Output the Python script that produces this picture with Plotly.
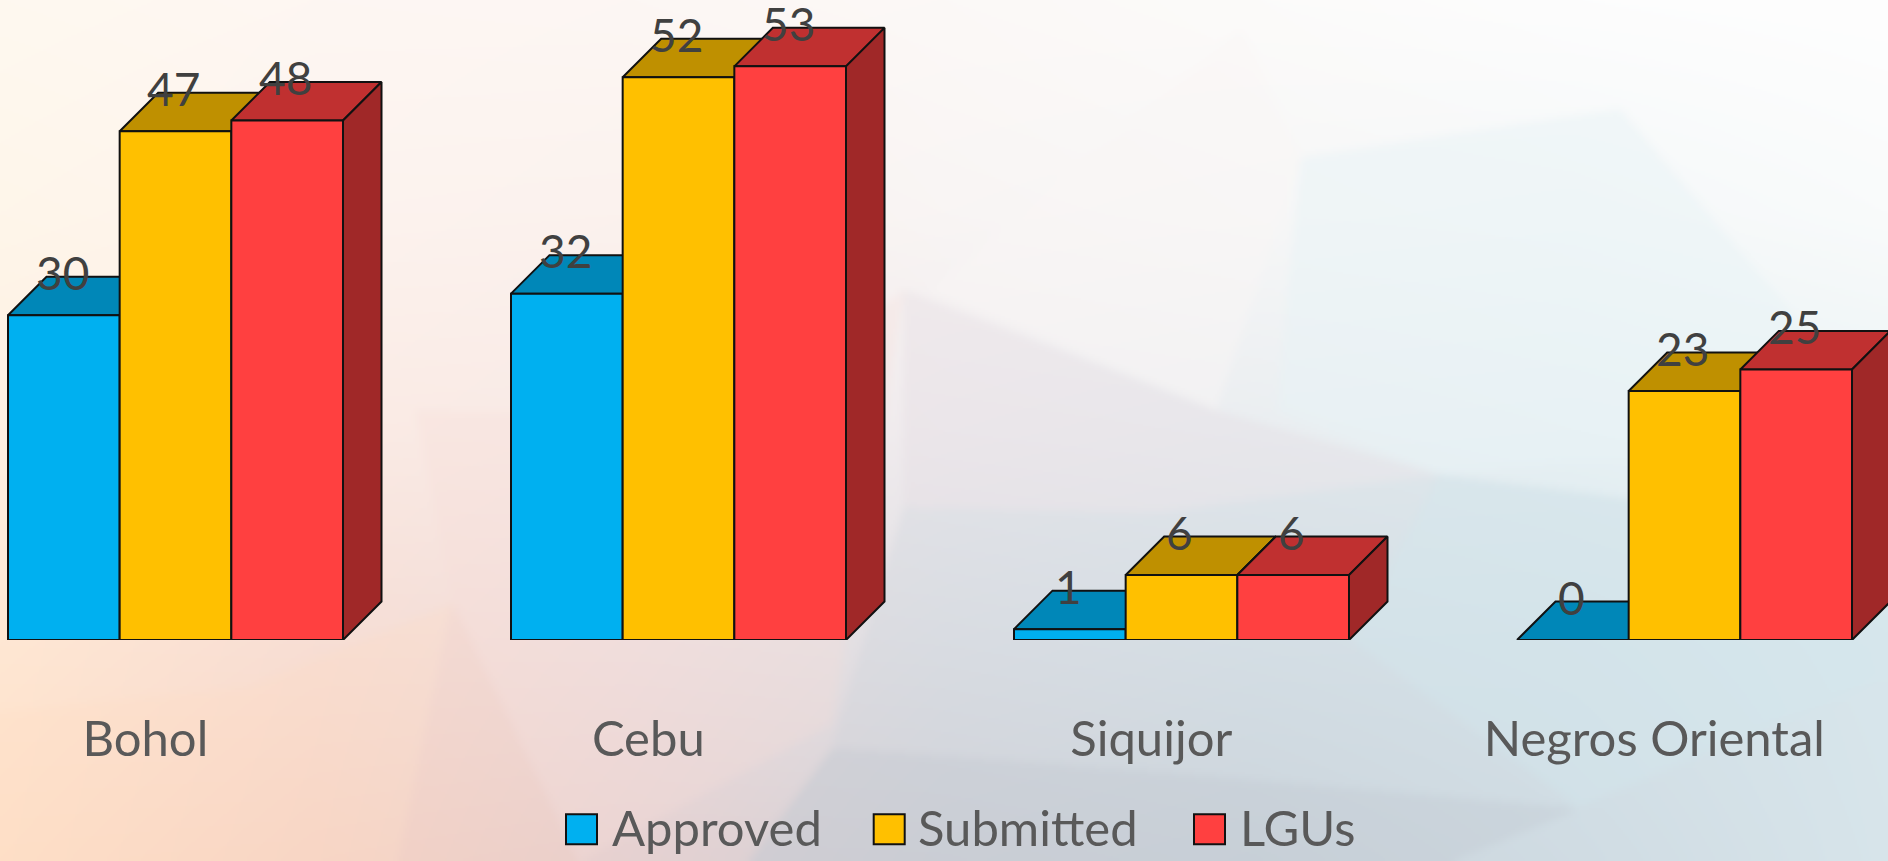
import base64, struct, zlib
import numpy as np
import plotly.graph_objects as go

# ---- data ----
categories = ["Bohol", "Cebu", "Siquijor", "Negros Oriental"]
series_names = ["Approved", "Submitted", "LGUs"]
approved = [30, 32, 1, 0]
submitted = [47, 52, 6, 23]
lgus = [48, 53, 6, 25]
series_values = [approved, submitted, lgus]

front_colors = ["#00B0F0", "#FFC000", "#FF4040"]
top_colors = ["#0087B8", "#BF9000", "#C03030"]
side_colors = ["#006F98", "#9C7600", "#A02828"]

# ---- layout geometry ----
W, H = 1888, 861
BASE_Y = 639.8
PX_PER_UNIT = 10.82
BAND = 503.0
FIRST = 175.5
BARGAP = 0.334
DEPTH = 38.5
x_range = [-FIRST / BAND, (W - FIRST) / BAND]
y_range = [0, BASE_Y / PX_PER_UNIT]
dx = DEPTH / BAND
dy = DEPTH / PX_PER_UNIT
bw = (1 - BARGAP) / 3
EDGE = dict(color="#111111", width=2)


# ---- low-poly pastel background (decorative, rendered to a PNG) ----
def background():
    w, h = W // 2, H // 2
    grid = [
        ["#FFF9F0", "#FEF7F3", "#FDF7F4", "#FCF9F7", "#FCFBFA", "#FDFDFD", "#FEFEFE"],
        ["#FFF6EA", "#FDF3EE", "#FBF2EE", "#F9F5F4", "#F7F7F7", "#F5F8F9", "#F9FBFB"],
        ["#FFF0E2", "#FBEBE4", "#F8EAE7", "#EFECEF", "#EAEEF1", "#E8F1F4", "#ECF4F6"],
        ["#FFE7D3", "#F8DED4", "#EEDEDE", "#DFE0E5", "#D9E3E9", "#D8E7ED", "#DEEEF3"],
        ["#FEE0C8", "#F6D4C6", "#E6D1D1", "#D2D2D8", "#CDD6DD", "#D3E0E7", "#DDECF1"],
    ]
    g = np.array([[[int(c[i:i + 2], 16) for i in (1, 3, 5)] for c in r] for r in grid], float)
    ys, xs = np.mgrid[0:h, 0:w]
    u = xs / (w - 1) * (g.shape[1] - 1)
    v = ys / (h - 1) * (g.shape[0] - 1)
    i0 = np.minimum(u.astype(int), g.shape[1] - 2)
    j0 = np.minimum(v.astype(int), g.shape[0] - 2)
    fu = (u - i0)[..., None]
    fv = (v - j0)[..., None]
    img = (g[j0, i0] * (1 - fu) * (1 - fv) + g[j0, i0 + 1] * fu * (1 - fv)
           + g[j0 + 1, i0] * (1 - fu) * fv + g[j0 + 1, i0 + 1] * fu * fv)

    # facets: outline in 1568x715 picture coordinates, tint, strength
    facets = [
        ([(750, 240), (1010, 340), (1195, 393), (960, 425), (750, 420)], "#E4DBE1", 0.35),
        ([(750, 420), (960, 425), (1195, 393), (1568, 440), (1568, 715), (620, 715), (690, 620)], "#C9D2DA", 0.28),
        ([(1080, 130), (1345, 90), (1480, 250), (1568, 360), (1195, 393), (1060, 340)], "#E8F3F6", 0.50),
        ([(1195, 393), (1568, 440), (1568, 560), (1310, 670), (1120, 530)], "#D3E8EE", 0.38),
        ([(375, 500), (480, 715), (330, 715)], "#F2CCC0", 0.25),
        ([(0, 590), (205, 570), (375, 500), (330, 715), (0, 715)], "#FFDCC2", 0.25),
        ([(345, 340), (620, 345), (750, 240), (690, 600), (480, 715), (375, 500)], "#F7DDD8", 0.30),
        ([(770, 240), (1030, 25), (1080, 130), (1010, 340)], "#FAF6F5", 0.45),
        ([(620, 715), (690, 620), (960, 640), (1310, 670), (1200, 715)], "#BDC3CC", 0.28),
    ]
    s = w / 1568
    for pts, col, a in facets:
        inside = np.zeros((h, w), bool)
        p = [(x * s, y * s) for x, y in pts]
        for (x1, y1), (x2, y2) in zip(p, p[1:] + p[:1]):
            if y1 == y2:
                continue
            cross = ((y1 <= ys) != (y2 <= ys)) & (xs < (x2 - x1) * (ys - y1) / (y2 - y1) + x1)
            inside ^= cross
        rgb = np.array([int(col[i:i + 2], 16) for i in (1, 3, 5)], float)
        img[inside] = img[inside] * (1 - a) + rgb * a

    # soft blur, padded so the edges do not wrap around
    pad = 12
    img = np.pad(img, ((pad, pad), (pad, pad), (0, 0)), mode="edge")
    for _ in range(2):
        for axis in (0, 1):
            img = sum(np.roll(img, k, axis=axis) for k in range(-2, 3)) / 5
    img = img[pad:-pad, pad:-pad]
    img = np.clip(img, 0, 255).astype(np.uint8)

    raw = b"".join(b"\x00" + img[r].tobytes() for r in range(h))

    def chunk(tag, data):
        return struct.pack(">I", len(data)) + tag + data + struct.pack(">I", zlib.crc32(tag + data))

    png = (b"\x89PNG\r\n\x1a\n" + chunk(b"IHDR", struct.pack(">IIBBBBB", w, h, 8, 2, 0, 0, 0))
           + chunk(b"IDAT", zlib.compress(raw, 9)) + chunk(b"IEND", b""))
    return "data:image/png;base64," + base64.b64encode(png).decode()


fig = go.Figure()

# ---- extruded faces, on the lower axes ----
for j, vals in enumerate(series_values):
    for i, v in enumerate(vals):
        x0 = i + (j - 1.5) * bw
        x1 = x0 + bw
        fig.add_trace(go.Scatter(
            x=[x0, x1, x1 + dx, x0 + dx, x0], y=[v, v, v + dy, v + dy, v],
            mode="lines", fill="toself", fillcolor=top_colors[j],
            line=EDGE, showlegend=False, hoverinfo="skip"))
        fig.add_trace(go.Scatter(
            x=[x1, x1 + dx, x1 + dx, x1, x1], y=[0, dy, v + dy, v, 0],
            mode="lines", fill="toself", fillcolor=side_colors[j],
            line=EDGE, showlegend=False, hoverinfo="skip"))

# ---- front faces, on the overlaying axes ----
for j, vals in enumerate(series_values):
    fig.add_trace(go.Bar(
        x=list(range(len(categories))), y=vals, name=series_names[j],
        xaxis="x2", yaxis="y2", showlegend=False,
        marker=dict(color=front_colors[j], line=EDGE)))

annotations = []
for j, vals in enumerate(series_values):
    for i, v in enumerate(vals):
        annotations.append(dict(
            x=i + (j - 1) * bw - 0.003, y=v, xref="x", yref="y", yshift=43, showarrow=False,
            text=str(v), font=dict(family="Lato", size=46, color="#404040"),
            xanchor="center", yanchor="middle"))

# ---- legend, drawn at the reference's large size ----
legend_swatch_x = [566, 873.7, 1194]
legend_text_x = [610, 916, 1238]
LEG_Y = 827
shapes = []
to_px = lambda py: (BASE_Y - py) / BASE_Y
for name, color, sx, tx in zip(series_names, front_colors, legend_swatch_x, legend_text_x):
    shapes.append(dict(type="rect", xref="paper", yref="paper",
                       x0=sx / W, x1=(sx + 31) / W, y0=to_px(814), y1=to_px(844),
                       fillcolor=color, line=dict(color="#111111", width=2)))
    annotations.append(dict(x=tx / W, y=to_px(LEG_Y), xref="paper", yref="paper", showarrow=False,
                            text=name, xanchor="left", yanchor="middle",
                            font=dict(family="Lato", size=49, color="#595959")))

axis_common = dict(showgrid=False, zeroline=False, showline=False)
fig.update_layout(
    width=W, height=H, autosize=False,
    margin=dict(l=0, r=0, t=0, b=H - BASE_Y, pad=0),
    paper_bgcolor="white", plot_bgcolor="rgba(0,0,0,0)",
    barmode="group", bargap=BARGAP, bargroupgap=0,
    showlegend=False,
    xaxis=dict(range=x_range, tickmode="array",
               tickvals=[i - 0.06 for i in range(len(categories))], ticktext=categories,
               ticks="outside", ticklen=56, tickcolor="rgba(0,0,0,0)", tickangle=0,
               tickfont=dict(family="Lato", size=49, color="#595959"), **axis_common),
    yaxis=dict(range=y_range, visible=False, **axis_common),
    xaxis2=dict(range=x_range, overlaying="x", visible=False, **axis_common),
    yaxis2=dict(range=y_range, overlaying="y", visible=False, **axis_common),
    images=[dict(source=background(), xref="paper", yref="paper", x=0, y=1,
                 sizex=1, sizey=H / BASE_Y, xanchor="left", yanchor="top",
                 sizing="stretch", layer="below")],
    shapes=shapes, annotations=annotations,
)
fig.write_html("out.html", config=dict(displayModeBar=False),
               post_script="document.body.style.margin='0';document.documentElement.style.overflow='hidden';")
